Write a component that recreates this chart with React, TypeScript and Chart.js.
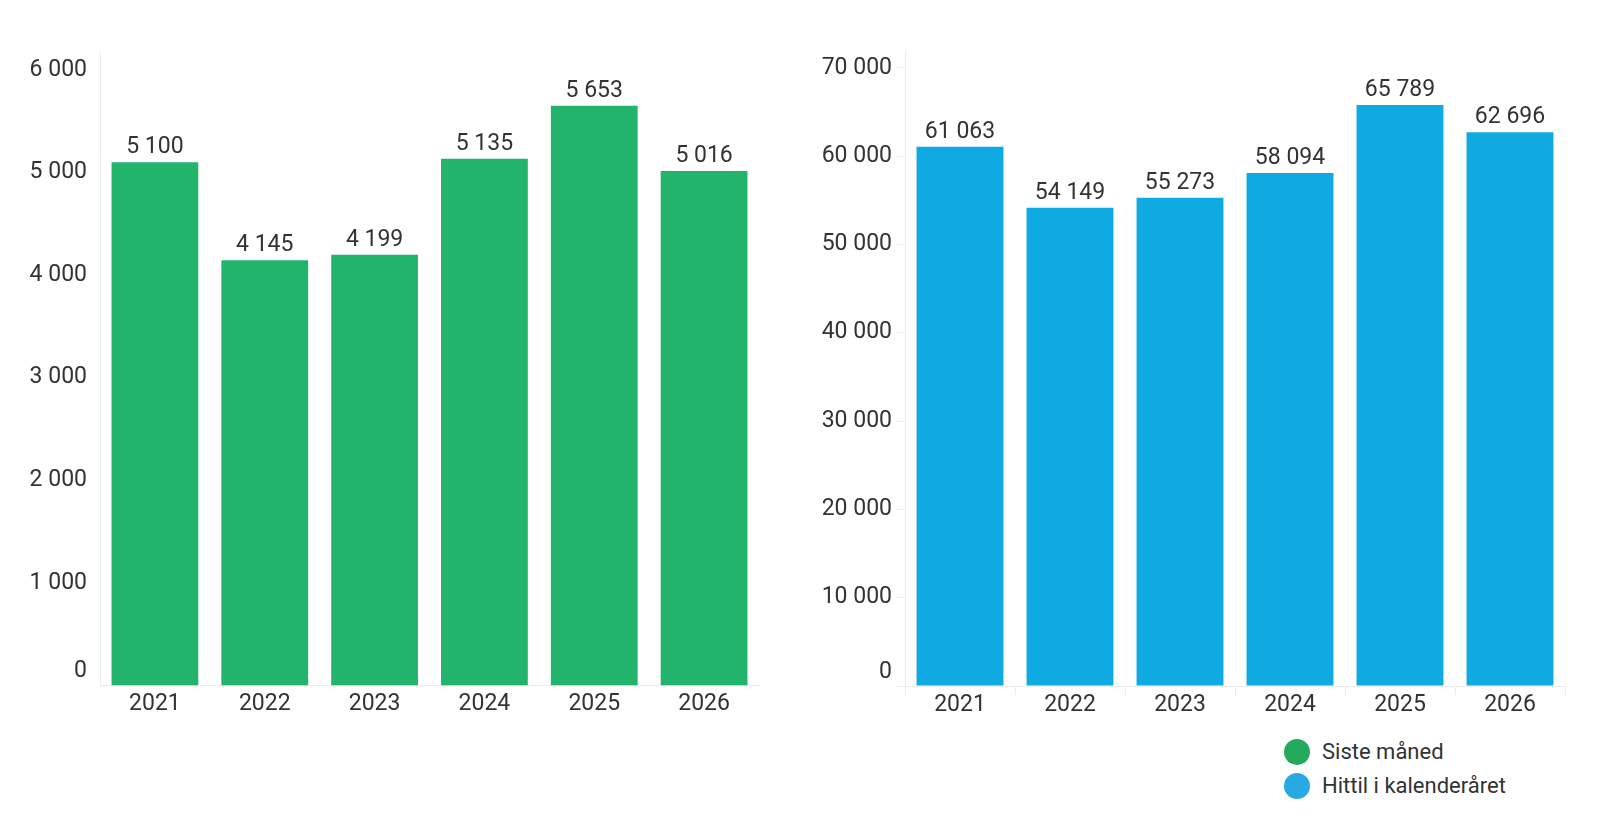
import { useEffect, useRef } from 'react'
import { Chart, registerables } from 'chart.js'

Chart.register(...registerables)

const years = ['2021', '2022', '2023', '2024', '2025', '2026']
const sisteManed = [5100, 4145, 4199, 5135, 5653, 5016]
const hittilIAr = [61063, 54149, 55273, 58094, 65789, 62696]

const sisteTicks = [0, 1000, 2000, 3000, 4000, 5000, 6000]
const hittilTicks = [0, 10000, 20000, 30000, 40000, 50000, 60000, 70000]

const legendItems = [
  { label: 'Siste måned', color: '#25a95c' },
  { label: 'Hittil i kalenderåret', color: '#29a9e1' },
]

const FONT = 'Roboto, "DejaVu Sans", sans-serif'
const TEXT = '#333333'
const LINE = '#ebebeb'

const fmt = (v: number) => String(Math.round(v)).replace(/\B(?=(\d{3})+(?!\d))/g, ' ')

const valueLabels = {
  id: 'valueLabels',
  afterDatasetsDraw(chart: any) {
    const ctx = chart.ctx
    const meta = chart.getDatasetMeta(0)
    const values = chart.data.datasets[0].data
    ctx.save()
    ctx.font = `23px ${FONT}`
    ctx.fillStyle = TEXT
    ctx.textAlign = 'center'
    ctx.textBaseline = 'alphabetic'
    meta.data.forEach((bar: any, i: number) => {
      ctx.fillText(fmt(values[i]), bar.x, bar.y - 9)
    })
    ctx.restore()
  },
}

interface PanelProps {
  values: number[]
  tickValues: number[]
  color: string
  max: number
  axisWidth: number
  ticks: boolean
  paddingRight: number
}

function BarPanel({ values, tickValues, color, max, axisWidth, ticks, paddingRight }: PanelProps) {
  const canvasRef = useRef<HTMLCanvasElement>(null)

  useEffect(() => {
    if (!canvasRef.current) return
    const config: any = {
      type: 'bar',
      data: {
        labels: years,
        datasets: [{
          data: values,
          backgroundColor: color,
          borderWidth: 0,
          barPercentage: 0.79,
          categoryPercentage: 1,
        }],
      },
      options: {
        responsive: true,
        maintainAspectRatio: false,
        animation: false,
        layout: { padding: { top: 51, right: paddingRight, left: 0, bottom: 0 } },
        plugins: {
          legend: { display: false },
          tooltip: { enabled: false },
        },
        scales: {
          x: {
            grid: {
              display: ticks,
              drawOnChartArea: false,
              drawTicks: ticks,
              tickLength: 9,
              color: LINE,
              offset: true,
            },
            border: { display: true, color: LINE, width: 1 },
            ticks: {
              color: TEXT,
              font: { family: FONT, size: 23 },
              padding: ticks ? -4 : 5,
              maxRotation: 0,
            },
            afterFit: (s: any) => { s.height = 40 },
          },
          y: {
            min: 0,
            max,
            grid: {
              display: ticks,
              drawOnChartArea: false,
              drawTicks: ticks,
              tickLength: 8,
              color: LINE,
            },
            border: { display: true, color: LINE, width: 1 },
            ticks: {
              color: TEXT,
              font: { family: FONT, size: 23 },
              padding: ticks ? 5 : 13,
              // the zero label sits a little above the baseline, as in the original
              callback: (v: number) => (v === 0 ? ['0', ''] : fmt(v)),
            },
            afterBuildTicks: (s: any) => { s.ticks = tickValues.map(v => ({ value: v })) },
            afterFit: (s: any) => { s.width = axisWidth },
          },
        },
      },
      plugins: [valueLabels],
    }
    const chart = new Chart(canvasRef.current, config)
    return () => chart.destroy()
  }, [values, tickValues, color, max, axisWidth, ticks, paddingRight])

  return <canvas ref={canvasRef} />
}

export default function App() {
  return (
    <div style={{ position: 'absolute', left: 0, top: 0, width: 1608, height: 816, background: '#fff', fontFamily: FONT }}>
      <div style={{ position: 'absolute', left: 0, top: 0, width: 780, height: 726 }}>
        <BarPanel values={sisteManed} tickValues={sisteTicks} color="#21b46a" max={6186} axisWidth={100} ticks={false} paddingRight={21} />
      </div>
      <div style={{ position: 'absolute', left: 780, top: 0, width: 800, height: 726 }}>
        <BarPanel values={hittilIAr} tickValues={hittilTicks} color="#0eaae1" max={71900} axisWidth={125} ticks={true} paddingRight={15} />
      </div>
      <div style={{ position: 'absolute', left: 1284, top: 735 }}>
        {legendItems.map(item => (
          <div key={item.label} style={{ display: 'flex', alignItems: 'center', height: 34 }}>
            <span style={{ width: 26, height: 26, borderRadius: '50%', background: item.color, display: 'inline-block' }} />
            <span style={{ marginLeft: 12, fontSize: 22, color: TEXT, lineHeight: '26px' }}>{item.label}</span>
          </div>
        ))}
      </div>
    </div>
  )
}
